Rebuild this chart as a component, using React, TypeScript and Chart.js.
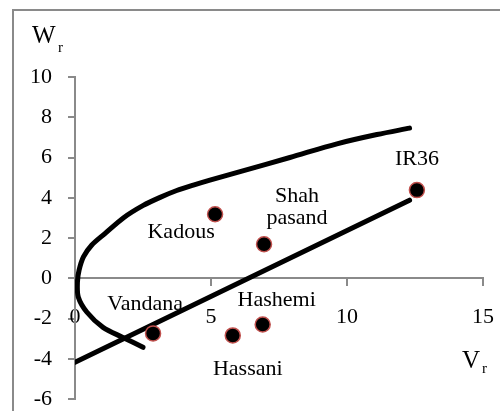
import React, { useEffect, useRef } from "react";
import { Chart, registerables } from "chart.js";

Chart.register(...registerables);

// Varieties (scatter points)
const varieties = ["Kadous", "Vandana", "Hassani", "Hashemi", "Shah\npasand", "IR36"];
const varietyV = [5.15, 2.87, 5.8, 6.9, 6.95, 12.57];
const varietyW = [3.18, -2.74, -2.84, -2.3, 1.69, 4.38];

// Regression line (Wr on Vr)
const lineV = [0, 12.3];
const lineW = [-4.18, 3.88];

// Limiting parabola
const curveV = [2.5, 1.76, 1.03, 0.44, 0.12, 0.09, 0.15, 0.31, 0.61, 1.1, 1.8, 2.51, 3.13, 3.74, 4.35, 4.96, 6.07, 7.9, 9.63, 11.1, 12.3];
const curveW = [-3.43, -2.94, -2.44, -1.69, -0.93, -0.18, 0.4, 1.06, 1.64, 2.22, 3.02, 3.62, 4.02, 4.36, 4.63, 4.88, 5.3, 6.0, 6.68, 7.14, 7.46];

// Axis ticks
const xTicks = [0, 5, 10, 15];
const yTicks = [-6, -4, -2, 0, 2, 4, 6, 8, 10];

// Label placement (pixel offsets from point: dx, dy of first baseline)
const labelOffsets: [number, number][] = [
  [-34, 24],
  [-8, -23],
  [15, 40],
  [14, -19],
  [33, -42],
  [0, -25],
];

const FONT = '"Liberation Serif", "Times New Roman", serif';
const AXIS_GREY = "#8a8a8a";

export default function App() {
  const ref = useRef<HTMLCanvasElement | null>(null);

  useEffect(() => {
    if (!ref.current) return;

    const framePlugin = {
      id: "frame",
      beforeDraw(chart: any) {
        const ctx = chart.ctx;
        ctx.save();
        ctx.fillStyle = "#fff";
        ctx.fillRect(0, 0, chart.width, chart.height);
        ctx.strokeStyle = AXIS_GREY;
        ctx.lineWidth = 2;
        ctx.beginPath();
        ctx.moveTo(13, chart.height);
        ctx.lineTo(13, 10);
        ctx.lineTo(chart.width, 10);
        ctx.stroke();
        ctx.restore();
      },
    };

    const labelPlugin = {
      id: "pointLabels",
      afterDatasetsDraw(chart: any) {
        const ctx = chart.ctx;
        const meta = chart.getDatasetMeta(0);
        ctx.save();
        ctx.fillStyle = "#000";
        ctx.font = `22px ${FONT}`;
        ctx.textAlign = "center";
        ctx.textBaseline = "alphabetic";
        meta.data.forEach((pt: any, i: number) => {
          const [dx, dy] = labelOffsets[i];
          const lines = varieties[i].split("\n");
          lines.forEach((ln, j) => {
            ctx.fillText(ln, pt.x + dx, pt.y + dy + j * 22);
          });
        });
        // axis titles
        ctx.textAlign = "left";
        ctx.font = `25px ${FONT}`;
        ctx.fillText("W", 32, 43);
        ctx.fillText("V", 462, 368);
        ctx.font = `15px ${FONT}`;
        ctx.fillText("r", 58, 52);
        ctx.fillText("r", 482, 373);
        ctx.restore();
      },
    };

    const chart = new Chart(ref.current, {
      type: "scatter",
      data: {
        datasets: [
          {
            label: "Varieties",
            data: varietyV.map((v, i) => ({ x: v, y: varietyW[i] })),
            pointRadius: 7.5,
            pointHoverRadius: 7.5,
            backgroundColor: "#000",
            borderColor: "#c0504d",
            borderWidth: 1.5,
            order: 0,
          },
          {
            label: "Regression",
            data: lineV.map((v, i) => ({ x: v, y: lineW[i] })),
            showLine: true,
            pointRadius: 0,
            borderColor: "#000",
            borderWidth: 5,
            borderCapStyle: "round",
            order: 1,
          },
          {
            label: "Parabola",
            data: curveV.map((v, i) => ({ x: v, y: curveW[i] })),
            showLine: true,
            pointRadius: 0,
            borderColor: "#000",
            borderWidth: 5,
            borderCapStyle: "round",
            borderJoinStyle: "round",
            tension: 0.3,
            order: 2,
          },
        ] as any,
      },
      options: {
        responsive: false,
        animation: false,
        layout: { padding: { top: 77, right: 17, bottom: 12, left: 0 } },
        plugins: { legend: { display: false }, tooltip: { enabled: false } },
        scales: {
          x: {
            type: "linear",
            min: 0,
            max: 15,
            position: { y: 0 } as any,
            afterBuildTicks: (s: any) => {
              s.ticks = xTicks.map((v) => ({ value: v }));
            },
            afterFit: (s: any) => {
              s.height = 0;
              s.paddingLeft = 0;
              s.paddingRight = 0;
              s.paddingTop = 0;
              s.paddingBottom = 0;
            },
            ticks: {
              color: "#000",
              font: { family: FONT, size: 22 },
              padding: 19,
              maxRotation: 0,
              autoSkip: false,
            },
            grid: {
              drawOnChartArea: false,
              drawTicks: true,
              tickLength: 7,
              color: AXIS_GREY,
              lineWidth: 2,
            },
            border: { display: true, color: AXIS_GREY, width: 2 },
          },
          y: {
            type: "linear",
            min: -6,
            max: 10,
            afterBuildTicks: (s: any) => {
              s.ticks = yTicks.map((v) => ({ value: v }));
            },
            afterFit: (s: any) => {
              s.width = 75;
              s.paddingTop = 0;
              s.paddingBottom = 0;
            },
            ticks: {
              color: "#000",
              font: { family: FONT, size: 22 },
              padding: 16,
              autoSkip: false,
            },
            grid: {
              drawOnChartArea: false,
              drawTicks: true,
              tickLength: 7,
              color: AXIS_GREY,
              lineWidth: 2,
            },
            border: { display: true, color: AXIS_GREY, width: 2 },
          },
        },
      },
      plugins: [framePlugin, labelPlugin],
    });

    return () => chart.destroy();
  }, []);

  return (
    <div style={{ position: "absolute", left: 0, top: 0, width: 500, height: 411, background: "#fff" }}>
      <canvas ref={ref} width={500} height={411} style={{ display: "block" }} />
    </div>
  );
}
